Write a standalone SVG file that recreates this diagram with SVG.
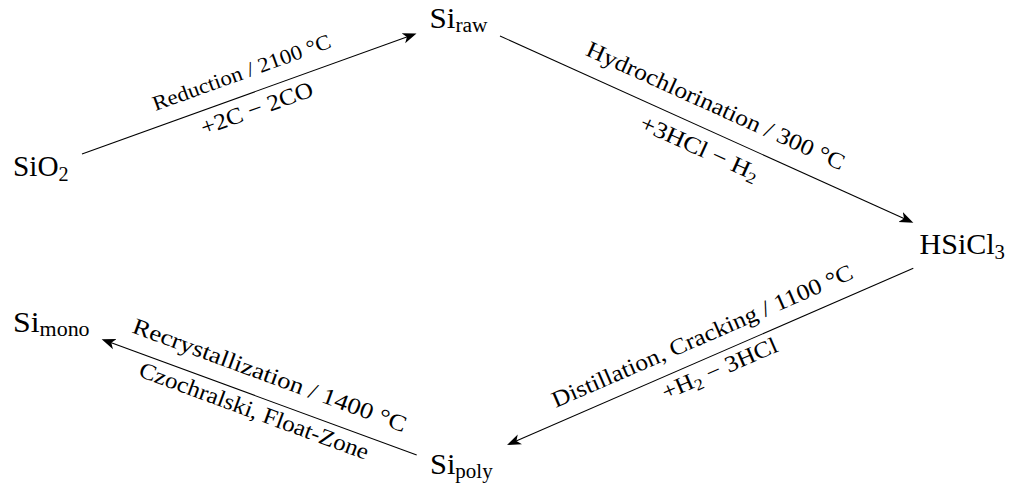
<svg xmlns="http://www.w3.org/2000/svg" width="1011" height="490" viewBox="0 0 1011 490">
  <style>
    text { font-family: 'Liberation Serif', 'DejaVu Serif', serif; fill: #000; }
    .node { font-size: 29px; }
    .sub { font-size: 20px; }
    .lbl { text-anchor: middle; font-size: 23px; }
    .lsub { font-size: 16px; }
    .edge { fill: none; stroke: #000; stroke-width: 1.1; marker-end: url(#stealth); }
  </style>
  <defs>
    <!-- swept-back arrow tip, tip point sits 3px beyond the path end -->
    <marker id="stealth" markerUnits="userSpaceOnUse" markerWidth="16" markerHeight="12" refX="11" refY="6" orient="auto">
      <path d="M14,6 L0,0.6 L3.8,6 L0,11.4 Z" fill="#000"/>
    </marker>
  </defs>

  <!-- process steps -->
  <g id="connectors">
    <path class="edge" d="M82,154 L413.7,34.5"/>
    <path class="edge" d="M500,36 L910.6,221.5"/>
    <path class="edge" d="M913.3,268.3 L509.8,443.8"/>
    <path class="edge" d="M416.7,455 L104.5,340.3"/>
  </g>

  <!-- edge labels -->
  <g id="label-reduction">
    <g transform="translate(243.9,79.1) rotate(-19.85)">
      <text class="lbl" style="font-size:21px" textLength="188" lengthAdjust="spacingAndGlyphs">Reduction / 2100 °C</text>
    </g>
    <g transform="translate(259.4,115.5) rotate(-19.85)">
      <text class="lbl" textLength="118" lengthAdjust="spacingAndGlyphs">+2C − 2CO</text>
    </g>
  </g>
  <g id="label-hydrochlorination">
    <g transform="translate(712.6,112.7) rotate(24.31)">
      <text class="lbl" textLength="281" lengthAdjust="spacingAndGlyphs">Hydrochlorination / 300 °C</text>
    </g>
    <g transform="translate(696.5,154.9) rotate(24.31)">
      <text class="lbl" textLength="128" lengthAdjust="spacingAndGlyphs">+3HCl − H<tspan class="lsub" dy="4">2</tspan></text>
    </g>
  </g>
  <g id="label-distillation">
    <g transform="translate(705.3,343) rotate(-23.5)">
      <text class="lbl" textLength="326" lengthAdjust="spacingAndGlyphs">Distillation, Cracking / 1100 °C</text>
    </g>
    <g transform="translate(722.5,375.6) rotate(-23.5)">
      <text class="lbl" textLength="124" lengthAdjust="spacingAndGlyphs">+H<tspan class="lsub" dy="4">2</tspan><tspan dy="-4"> − 3HCl</tspan></text>
    </g>
  </g>
  <g id="label-recrystallization">
    <g transform="translate(267.2,382.3) rotate(20.17)">
      <text class="lbl" textLength="290" lengthAdjust="spacingAndGlyphs">Recrystallization /  1400 °C</text>
    </g>
    <g transform="translate(251.5,418) rotate(20.17)">
      <text class="lbl" textLength="243" lengthAdjust="spacingAndGlyphs">Czochralski, Float-Zone</text>
    </g>
  </g>

  <!-- materials -->
  <g id="SiO2">
    <text class="node" x="13" y="175.5" textLength="55.6" lengthAdjust="spacingAndGlyphs">SiO<tspan class="sub" dy="5">2</tspan></text>
  </g>
  <g id="Si-raw">
    <text class="node" x="429.5" y="28" textLength="58" lengthAdjust="spacingAndGlyphs">Si<tspan class="sub" dy="4">raw</tspan></text>
  </g>
  <g id="HSiCl3">
    <text class="node" x="919.5" y="253.5" textLength="85.5" lengthAdjust="spacingAndGlyphs">HSiCl<tspan class="sub" dy="5">3</tspan></text>
  </g>
  <g id="Si-poly">
    <text class="node" x="430" y="474" textLength="62.7" lengthAdjust="spacingAndGlyphs">Si<tspan class="sub" dy="4">poly</tspan></text>
  </g>
  <g id="Si-mono">
    <text class="node" x="13" y="331.5" textLength="76.6" lengthAdjust="spacingAndGlyphs">Si<tspan class="sub" dy="4">mono</tspan></text>
  </g>
</svg>
